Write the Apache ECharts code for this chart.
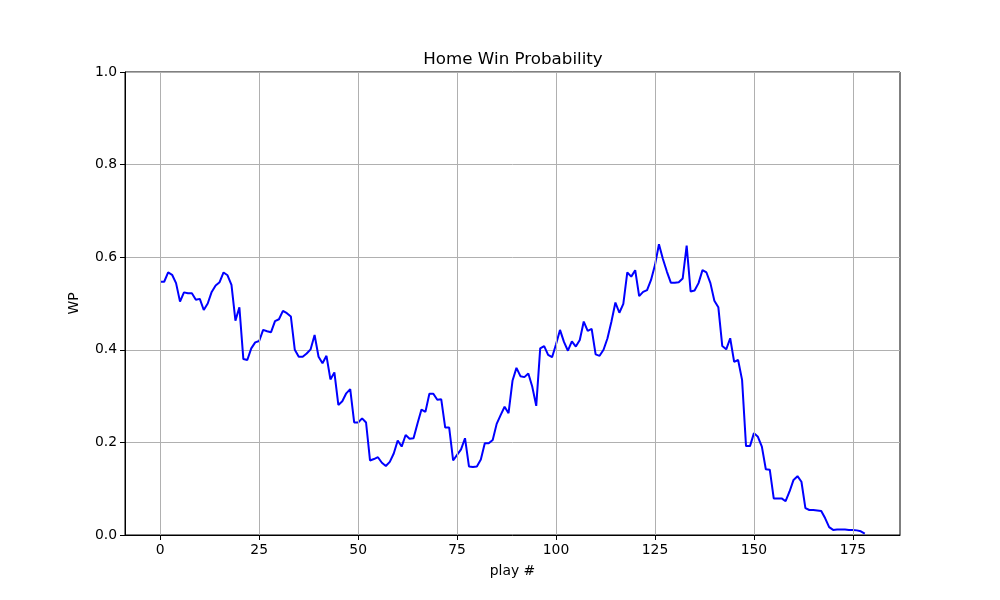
<!DOCTYPE html>
<html>
<head>
<meta charset="utf-8">
<script src="https://cdn.jsdelivr.net/npm/echarts@6/dist/echarts.min.js"></script>
<style>html,body{margin:0;padding:0;background:#fff}#c{width:1000px;height:600px}</style>
</head>
<body>
<div id="c"></div>
<script>
const titleText = 'Home Win Probability';
const xTicks = [0, 25, 50, 75, 100, 125, 150, 175];
const yTicks = [0, 0.2, 0.4, 0.6, 0.8, 1.0];
const wp = [
  0.547, 0.547, 0.567, 0.562, 0.544, 0.504, 0.524, 0.522, 0.522, 0.508,
  0.510, 0.486, 0.500, 0.525, 0.539, 0.546, 0.567, 0.561, 0.540, 0.463,
  0.492, 0.380, 0.378, 0.403, 0.416, 0.419, 0.443, 0.440, 0.438, 0.462,
  0.466, 0.484, 0.479, 0.472, 0.400, 0.385, 0.385, 0.392, 0.401, 0.432,
  0.385, 0.371, 0.387, 0.336, 0.351, 0.281, 0.289, 0.306, 0.315, 0.243,
  0.243, 0.252, 0.243, 0.161, 0.164, 0.168, 0.156, 0.149, 0.158, 0.176,
  0.204, 0.191, 0.216, 0.208, 0.209, 0.241, 0.271, 0.266, 0.305, 0.305,
  0.292, 0.293, 0.232, 0.232, 0.161, 0.173, 0.185, 0.209, 0.148, 0.147,
  0.148, 0.163, 0.198, 0.198, 0.205, 0.240, 0.259, 0.277, 0.263, 0.333,
  0.361, 0.343, 0.341, 0.349, 0.320, 0.279, 0.403, 0.408, 0.389, 0.384,
  0.412, 0.443, 0.417, 0.398, 0.418, 0.407, 0.421, 0.461, 0.441, 0.445,
  0.390, 0.387, 0.400, 0.425, 0.461, 0.502, 0.480, 0.499, 0.567, 0.558,
  0.572, 0.516, 0.525, 0.529, 0.551, 0.583, 0.628, 0.596, 0.569, 0.545,
  0.545, 0.546, 0.554, 0.625, 0.526, 0.528, 0.544, 0.572, 0.567, 0.544,
  0.506, 0.492, 0.408, 0.401, 0.425, 0.374, 0.378, 0.335, 0.192, 0.192,
  0.220, 0.212, 0.191, 0.142, 0.141, 0.079, 0.079, 0.079, 0.073, 0.094,
  0.119, 0.127, 0.115, 0.058, 0.054, 0.054, 0.053, 0.052, 0.036, 0.017,
  0.011, 0.012, 0.012, 0.012, 0.011, 0.011, 0.010, 0.008, 0.003
];
const points = wp.map((v, i) => [i, v]);
const font = 'DejaVu Sans';
const chart = echarts.init(document.getElementById('c'), null, {renderer: 'canvas'});
chart.setOption({
  animation: false,
  backgroundColor: '#ffffff',
  title: {
    text: titleText, left: 508, textAlign: 'center', top: 46,
    textStyle: {fontFamily: font, fontSize: 16.7, fontWeight: 'normal', color: '#000'}
  },
  grid: {left: 125, right: 100, top: 72, bottom: 65, show: true, borderColor: '#000', borderWidth: 1, backgroundColor: 'transparent'},
  xAxis: {
    type: 'value', min: -8.9, max: 186.9,
    name: 'play #', nameLocation: 'middle', nameGap: 29,
    nameTextStyle: {fontFamily: font, fontSize: 13.9, color: '#000'},
    axisLine: {show: true, onZero: false, lineStyle: {color: '#000', width: 1}},
    axisTick: {show: true, length: 5, customValues: xTicks, lineStyle: {color: '#000'}},
    axisLabel: {customValues: xTicks, fontFamily: font, fontSize: 13.9, color: '#000', margin: 8},
    splitLine: {show: false}
  },
  yAxis: {
    type: 'value', min: 0, max: 1, interval: 0.2,
    name: 'WP', nameLocation: 'middle', nameGap: 44,
    nameTextStyle: {fontFamily: font, fontSize: 13.9, color: '#000'},
    axisLine: {show: true, onZero: false, lineStyle: {color: '#000', width: 1}},
    axisTick: {show: true, length: 5, lineStyle: {color: '#000'}},
    axisLabel: {fontFamily: font, fontSize: 13.9, color: '#000', margin: 8, formatter: v => v.toFixed(1)},
    splitLine: {show: true, lineStyle: {color: '#b0b0b0', width: 1}}
  },
  series: [{
    type: 'line', data: points, showSymbol: false, symbol: 'none',
    lineStyle: {color: '#0000ff', width: 2}, itemStyle: {color: '#0000ff'},
    z: 3,
    markLine: {
      silent: true, symbol: 'none', label: {show: false},
      lineStyle: {color: '#b0b0b0', width: 1, type: 'solid'},
      emphasis: {disabled: true},
      data: xTicks.map(t => ({xAxis: t}))
    }
  }]
});
</script>
</body>
</html>
